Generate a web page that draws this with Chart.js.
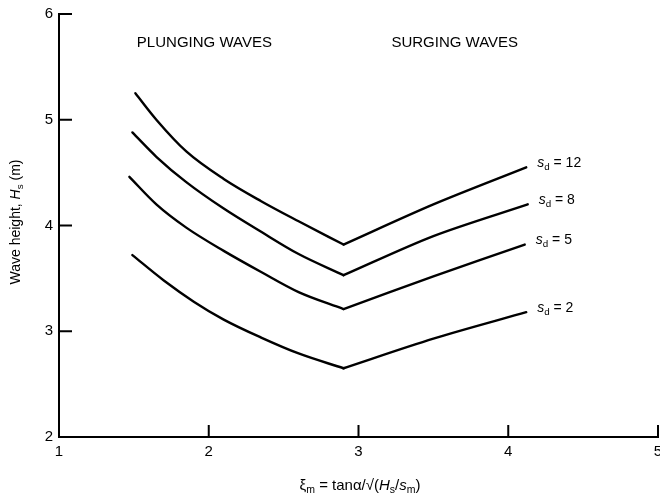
<!DOCTYPE html>
<html>
<head>
<meta charset="utf-8">
<script src="https://cdn.jsdelivr.net/npm/chart.js@4.4.1/dist/chart.umd.min.js"></script>
<style>
  html, body { margin: 0; padding: 0; background: #fff; }
  #wrap { width: 660px; height: 498px; }
</style>
</head>
<body>
<div id="wrap"><canvas id="wave-chart" width="660" height="498"></canvas></div>
<script>
// wave height H_s against surf similarity parameter, one curve per damage level S_d
const sdLevels = ['12', '8', '5', '2'];

const sd12X = [1.51, 1.65, 1.85, 2.1, 2.35, 2.6, 2.9, 3.5, 4.12];
const sd12Y = [5.25, 5.00, 4.70, 4.44, 4.23, 4.04, 3.82, 4.20, 4.55];

const sd8X = [1.49, 1.65, 1.85, 2.1, 2.35, 2.6, 2.9, 3.5, 4.13];
const sd8Y = [4.88, 4.65, 4.41, 4.16, 3.94, 3.73, 3.53, 3.90, 4.20];

const sd5X = [1.47, 1.65, 1.85, 2.1, 2.35, 2.6, 2.9, 3.5, 4.11];
const sd5Y = [4.46, 4.20, 3.98, 3.76, 3.56, 3.37, 3.21, 3.52, 3.82];

const sd2X = [1.49, 1.7, 1.9, 2.1, 2.35, 2.6, 2.9, 3.5, 4.12];
const sd2Y = [3.72, 3.48, 3.28, 3.11, 2.94, 2.79, 2.65, 2.93, 3.18];

const xTicks = [1, 2, 3, 4, 5];
const yTicks = [2, 3, 4, 5, 6];

// plunging / surging transition point in every curve
const vertexIndex = 6;

const FONT = '"Liberation Sans", Arial, sans-serif';
const INK = '#000';

function splitSeries(xs, ys) {
    const pts = xs.map((x, i) => ({ x: x, y: ys[i] }));
    return [pts.slice(0, vertexIndex + 1), pts.slice(vertexIndex)];
}

const seriesX = [sd12X, sd8X, sd5X, sd2X];
const seriesY = [sd12Y, sd8Y, sd5Y, sd2Y];

const datasets = [];
seriesX.forEach((xs, i) => {
    const parts = splitSeries(xs, seriesY[i]);
    // curved plunging branch
    datasets.push({ data: parts[0], cubicInterpolationMode: 'monotone', sdIndex: i });
    // nearly straight surging branch
    datasets.push({ data: parts[1], tension: 0.3, sdIndex: i, isEnd: true });
});
datasets.forEach(d => {
    d.showLine = true;
    d.borderColor = INK;
    d.borderWidth = 2.4;
    d.pointRadius = 0;
    d.fill = false;
    d.borderCapStyle = 'round';
});

// text made of pieces: plain, italic, subscript
function richWidth(ctx, parts, size) {
    let w = 0;
    parts.forEach(p => {
        ctx.font = (p.it ? 'italic ' : '') + (p.sub ? size * 0.7 : size) + 'px ' + FONT;
        w += ctx.measureText(p.t).width;
    });
    return w;
}

function drawRich(ctx, parts, x, y, size) {
    let cx = x;
    parts.forEach(p => {
        ctx.font = (p.it ? 'italic ' : '') + (p.sub ? size * 0.7 : size) + 'px ' + FONT;
        ctx.fillText(p.t, cx, p.sub ? y + size * 0.28 : y);
        cx += ctx.measureText(p.t).width;
    });
}

const xTitle = [
    { t: 'ξ' }, { t: 'm', sub: true }, { t: ' = tanα/√(' },
    { t: 'H', it: true }, { t: 's', sub: true }, { t: '/' },
    { t: 's', it: true }, { t: 'm', sub: true }, { t: ')' }
];
const yTitle = [
    { t: 'Wave height, ' }, { t: 'H', it: true }, { t: 's', sub: true }, { t: ' (m)' }
];

const annotations = {
    id: 'annotations',
    afterDraw(chart) {
        const { ctx, chartArea, scales: { x, y } } = chart;
        ctx.save();
        ctx.fillStyle = INK;
        ctx.strokeStyle = INK;

        // inward tick marks
        ctx.lineWidth = 2;
        ctx.beginPath();
        xTicks.slice(1).forEach(v => {
            const px = x.getPixelForValue(v);
            ctx.moveTo(px, chartArea.bottom);
            ctx.lineTo(px, chartArea.bottom - 12);
        });
        yTicks.slice(1).forEach(v => {
            const py = y.getPixelForValue(v);
            ctx.moveTo(chartArea.left, py);
            ctx.lineTo(chartArea.left + 13, py);
        });
        ctx.stroke();

        // region headings
        ctx.textBaseline = 'middle';
        ctx.textAlign = 'left';
        ctx.font = '15px ' + FONT;
        ctx.fillText('PLUNGING WAVES', x.getPixelForValue(1.52), y.getPixelForValue(5.73));
        ctx.fillText('SURGING WAVES', x.getPixelForValue(3.22), y.getPixelForValue(5.73));

        // damage level labels at the end of each curve
        chart.data.datasets.forEach(d => {
            if (!d.isEnd) return;
            const last = d.data[d.data.length - 1];
            const px = x.getPixelForValue(last.x) + 11;
            const py = y.getPixelForValue(last.y) - 4;
            drawRich(ctx, [
                { t: 's', it: true }, { t: 'd', sub: true }, { t: ' = ' + sdLevels[d.sdIndex] }
            ], px, py, 14);
        });

        // axis titles
        const size = 15;
        const xw = richWidth(ctx, xTitle, size);
        drawRich(ctx, xTitle, 360 - xw / 2, 486, size);

        const yw = richWidth(ctx, yTitle, 14);
        ctx.translate(16, 222);
        ctx.rotate(-Math.PI / 2);
        drawRich(ctx, yTitle, -yw / 2, 0, 14);
        ctx.restore();
    }
};

new Chart(document.getElementById('wave-chart').getContext('2d'), {
    type: 'scatter',
    data: { datasets: datasets },
    options: {
        responsive: false,
        animation: false,
        devicePixelRatio: 1,
        layout: { padding: { top: 14, right: 2, left: 0, bottom: 0 } },
        plugins: {
            legend: { display: false },
            tooltip: { enabled: false }
        },
        scales: {
            x: {
                type: 'linear',
                min: 1,
                max: 5,
                afterBuildTicks: s => { s.ticks = xTicks.map(v => ({ value: v })); },
                grid: { display: false, drawTicks: false },
                border: { display: true, color: INK, width: 2 },
                ticks: { color: INK, font: { family: FONT, size: 15 }, padding: 6 },
                afterFit: s => { s.height = 61; s.paddingRight = 0; s.paddingLeft = 0; }
            },
            y: {
                type: 'linear',
                min: 2,
                max: 6,
                afterBuildTicks: s => { s.ticks = yTicks.map(v => ({ value: v })); },
                grid: { display: false, drawTicks: false },
                border: { display: true, color: INK, width: 2 },
                ticks: { color: INK, font: { family: FONT, size: 15 }, padding: 6 },
                afterFit: s => { s.width = 59; s.paddingTop = 0; s.paddingBottom = 0; }
            }
        }
    },
    plugins: [annotations]
});
</script>
</body>
</html>
